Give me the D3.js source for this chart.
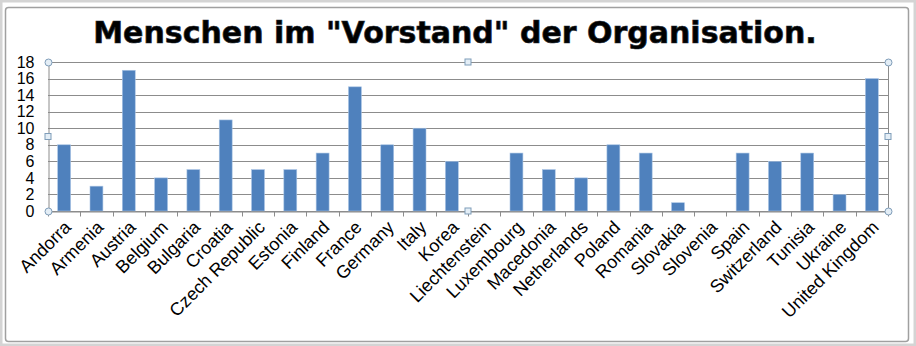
<!DOCTYPE html>
<html>
<head>
<meta charset="utf-8">
<script src="https://cdn.jsdelivr.net/npm/d3@7"></script>
<style>
  html, body { margin: 0; padding: 0; background: #fff; }
  svg { display: block; }
</style>
</head>
<body>
<svg id="chart" width="916" height="346"></svg>
<script>
// Number of people on the board, per country
const countries = ["Andorra", "Armenia", "Austria", "Belgium", "Bulgaria", "Croatia",
  "Czech Republic", "Estonia", "Finland", "France", "Germany", "Italy", "Korea",
  "Liechtenstein", "Luxembourg", "Macedonia", "Netherlands", "Poland", "Romania",
  "Slovakia", "Slovenia", "Spain", "Switzerland", "Tunisia", "Ukraine", "United Kingdom"];
const members = [8, 3, 17, 4, 5, 11, 5, 5, 7, 15, 8, 10, 6, 0, 7, 5, 4, 8, 7, 1, 0, 7, 6, 7, 2, 16];
const yTicks = [0, 2, 4, 6, 8, 10, 12, 14, 16, 18];
const title = "Menschen im \"Vorstand\" der Organisation.";

const svg = d3.select("#chart");
const W = 916, H = 346;
const plot = { left: 48, right: 888, top: 62, bottom: 211 };

// Window-like outer frame and the chart border
svg.append("rect").attr("x", 1).attr("y", 1).attr("width", W - 2).attr("height", H - 2)
  .attr("fill", "none").attr("stroke", "#d4d4d4").attr("stroke-width", 3);
svg.append("rect").attr("x", 5.5).attr("y", 7.5).attr("width", 903).attr("height", 334)
  .attr("rx", 3).attr("fill", "#fff").attr("stroke", "#a0a0a0").attr("stroke-width", 1.5);

const x = d3.scaleBand().domain(countries).range([plot.left, plot.right]).paddingInner(0.6).paddingOuter(0.3);
const xc = d3.scaleBand().domain(countries).range([plot.left, plot.right]);
const y = d3.scaleLinear().domain([0, 18]).range([plot.bottom, plot.top]);

// Horizontal gridlines
svg.append("g").selectAll("line").data(yTicks).join("line")
  .attr("x1", plot.left).attr("x2", plot.right)
  .attr("y1", d => Math.round(y(d)) + 0.5).attr("y2", d => Math.round(y(d)) + 0.5)
  .attr("stroke", "#8c8c8c").attr("stroke-width", 1);

// Bars
svg.append("g").selectAll("rect").data(countries).join("rect")
  .attr("x", d => x(d))
  .attr("width", x.bandwidth())
  .attr("y", (d, i) => y(members[i]))
  .attr("height", (d, i) => y(0) - y(members[i]))
  .attr("fill", "#4f81bd")
  .attr("stroke", "#a9c4e4").attr("stroke-width", 0.6);

// Y axis
const yAxis = svg.append("g").attr("transform", `translate(${plot.left + 0.5},0)`)
  .call(d3.axisLeft(y).tickValues(yTicks).tickSize(0).tickPadding(14));
yAxis.select(".domain").attr("stroke", "#8c8c8c");
yAxis.selectAll("text").attr("font-family", "Liberation Sans, Arial, sans-serif")
  .attr("font-size", 16).attr("fill", "#000");

// X axis with category boundary ticks
const xAxis = svg.append("g").attr("transform", `translate(0,${Math.round(plot.bottom) + 0.5})`)
  .call(d3.axisBottom(xc).tickSize(0).tickPadding(0));
xAxis.select(".domain").attr("stroke", "#8c8c8c");
xAxis.selectAll(".tick line").remove();
xAxis.append("g").selectAll("line").data(d3.range(countries.length + 1)).join("line")
  .attr("x1", i => Math.round(plot.left + i * xc.step()) + 0.5)
  .attr("x2", i => Math.round(plot.left + i * xc.step()) + 0.5)
  .attr("y1", 0).attr("y2", 5).attr("stroke", "#8c8c8c");
xAxis.selectAll(".tick text")
  .attr("font-family", "Liberation Sans, Arial, sans-serif")
  .attr("font-size", 18).attr("fill", "#000")
  .attr("text-anchor", "end")
  .attr("dy", 0)
  .attr("transform", "translate(8,17) rotate(-45)");

// Plot-area selection frame
svg.append("path")
  .attr("d", `M${plot.left},${plot.top + 0.5}H${plot.right + 0.5}V${plot.bottom}`)
  .attr("fill", "none").attr("stroke", "#8c8c8c");

// Selection handles
const midX = (plot.left + plot.right) / 2, midY = (plot.top + plot.bottom) / 2;
const circles = [[plot.left, plot.top], [plot.right, plot.top], [plot.left, plot.bottom], [plot.right, plot.bottom]];
const squares = [[midX, plot.top], [midX, plot.bottom], [plot.left, midY], [plot.right, midY]];
svg.append("g").selectAll("circle").data(circles).join("circle")
  .attr("cx", d => d[0] + 0.5).attr("cy", d => d[1] + 0.5).attr("r", 3.5)
  .attr("fill", "#e4eef6").attr("stroke", "#7f9db9");
svg.append("g").selectAll("rect").data(squares).join("rect")
  .attr("x", d => d[0] - 3).attr("y", d => d[1] - 3).attr("width", 6).attr("height", 6)
  .attr("fill", "#e4eef6").attr("stroke", "#7f9db9");

// Title
svg.append("text").attr("x", 455).attr("y", 43)
  .attr("text-anchor", "middle")
  .attr("font-family", "DejaVu Sans, Verdana, sans-serif")
  .attr("font-weight", "bold").attr("font-size", 30)
  .attr("fill", "#000").attr("stroke", "#1f2a33").attr("stroke-width", 0.7)
  .text(title);
</script>
</body>
</html>
